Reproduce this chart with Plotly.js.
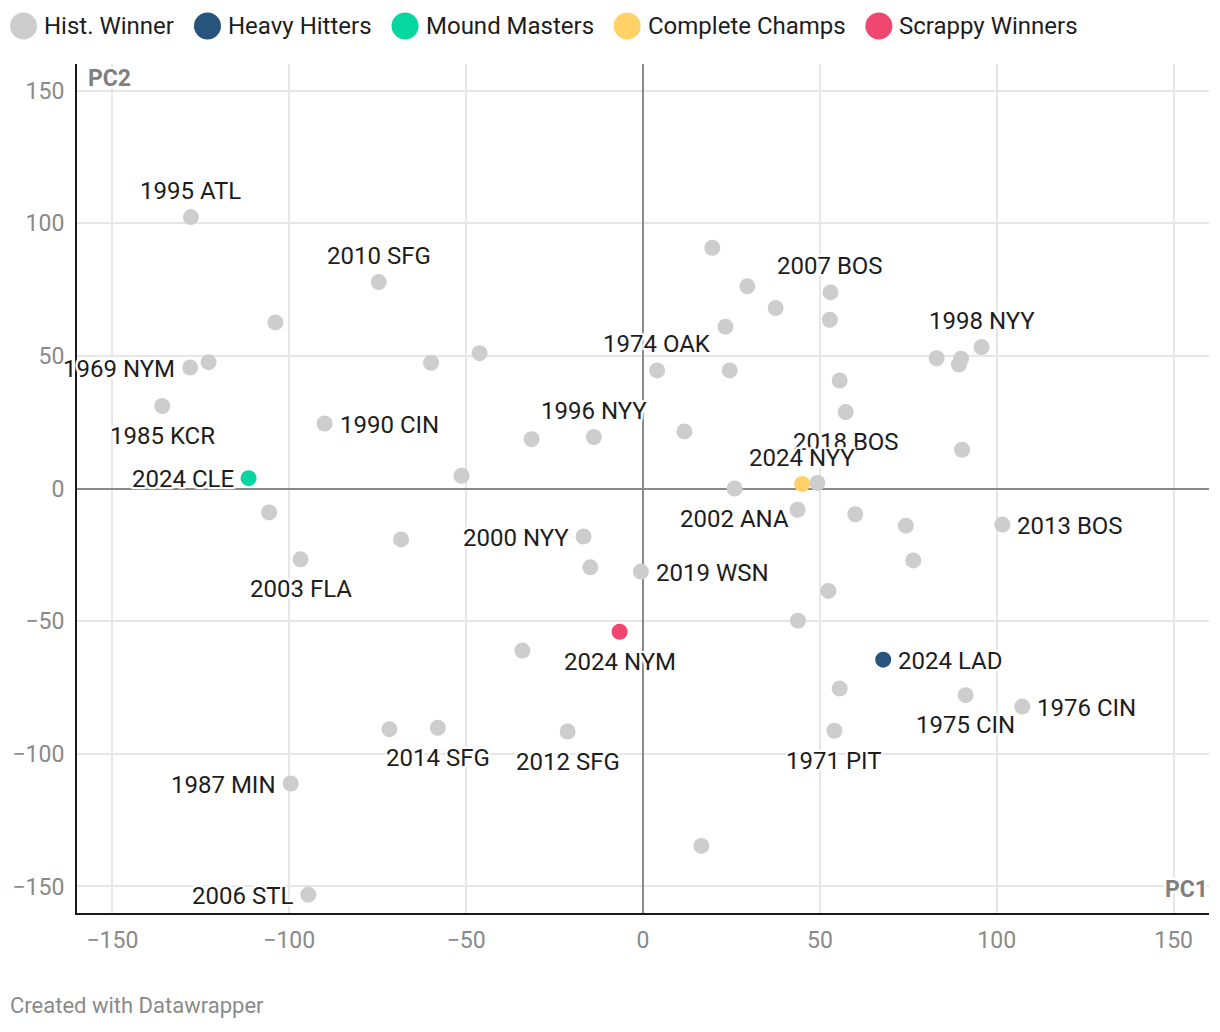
<!DOCTYPE html>
<html><head><meta charset="utf-8">
<script src="https://cdn.plot.ly/plotly-3.0.1.min.js"></script>
<style>html,body{margin:0;padding:0;background:#fff;} #chart{width:1220px;height:1032px;}</style>
</head><body><div id="chart"></div>
<script>
// ---------- DATA ----------
const histTeams = ["1995 ATL","2010 SFG","","1969 NYM","","1985 KCR","1990 CIN","","","",
  "2003 FLA","","","","1996 NYY","","1974 OAK","","","",
  "","","2007 BOS","","","2018 BOS","1998 NYY","","","",
  "","","2002 ANA","","","","","2013 BOS","","",
  "","1975 CIN","1976 CIN","1971 PIT","","2019 WSN","2000 NYY","","","2014 SFG",
  "","2012 SFG","1987 MIN","2006 STL"];
const histPC1 = [-127.8,-74.7,-103.9,-128.0,-122.8,-135.9,-90.0,-59.9,-46.2,-105.7,
  -96.8,-68.4,-51.3,-31.5,-13.9,11.7,4.0,19.6,29.5,37.5,
  23.3,24.5,53.0,52.8,55.6,57.3,95.7,83.0,89.9,89.3,
  90.2,49.3,25.9,43.7,60.0,74.3,76.4,101.6,52.4,43.8,
  55.6,91.2,107.2,54.1,16.5,-0.6,-16.8,-14.9,-34.1,-58.0,
  -71.7,-21.3,-99.6,-94.6];
const histPC2 = [102.3,77.8,62.6,45.6,47.6,31.1,24.5,47.4,51.0,-9.0,
  -26.7,-19.2,4.8,18.6,19.4,21.5,44.5,90.7,76.2,68.0,
  61.0,44.5,73.9,63.6,40.7,28.8,53.3,49.1,48.9,46.7,
  14.6,2.1,0.0,-8.0,-9.7,-14.0,-27.1,-13.6,-38.6,-49.8,
  -75.4,-77.9,-82.2,-91.3,-134.7,-31.3,-18.1,-29.7,-61.1,-90.2,
  -90.7,-91.6,-111.2,-153.1];

const teams2024 = ["2024 LAD","2024 CLE","2024 NYY","2024 NYM"];
const groups2024 = ["Heavy Hitters","Mound Masters","Complete Champs","Scrappy Winners"];
const pc1_2024 = [67.9,-111.5,45.0,-6.6];
const pc2_2024 = [-64.5,3.9,1.7,-54.0];

const legendGroups = ["Hist. Winner","Heavy Hitters","Mound Masters","Complete Champs","Scrappy Winners"];
const tickVals = [-150,-100,-50,0,50,100,150];

// ---------- STYLE ----------
const groupColors = {
  "Hist. Winner":"#cdcdcd","Heavy Hitters":"#26547c","Mound Masters":"#06d6a0",
  "Complete Champs":"#ffd166","Scrappy Winners":"#ef476f"
};
const labelSide = {
  "1995 ATL":"top","2010 SFG":"top","1969 NYM":"left","1985 KCR":"bottom","1990 CIN":"right",
  "2003 FLA":"bottom","1996 NYY":"top","1974 OAK":"top","2007 BOS":"top","2018 BOS":"bottom",
  "1998 NYY":"top","2002 ANA":"bottom","2013 BOS":"right","1975 CIN":"bottom","1976 CIN":"right",
  "1971 PIT":"bottom","2019 WSN":"right","2000 NYY":"left","2014 SFG":"bottom","2012 SFG":"bottom",
  "1987 MIN":"left","2006 STL":"left",
  "2024 LAD":"right","2024 CLE":"left","2024 NYY":"top","2024 NYM":"bottom"
};
const FONT = "Roboto, 'Noto Sans', sans-serif";
const halo = "-2px -2px 1px #fff, 2px -2px 1px #fff, -2px 2px 1px #fff, 2px 2px 1px #fff, 0 -2px 1px #fff, 0 2px 1px #fff, -2px 0 1px #fff, 2px 0 1px #fff";
const W = 1220, H = 1032;
const M = {l:77, r:11, t:64, b:119};
const PW = W - M.l - M.r, PH = H - M.t - M.b;
const px2paperX = p => (p - M.l) / PW;
const px2paperY = p => (H - M.b - p) / PH;

// ---------- TRACES ----------
const traces = [{
  type:"scatter", mode:"markers", x:histPC1, y:histPC2, text:histTeams,
  name:"Hist. Winner", hoverinfo:"text",
  marker:{size:16, color:groupColors["Hist. Winner"], line:{width:0}}
}];
groups2024.forEach((g,i)=>{
  traces.push({
    type:"scatter", mode:"markers", x:[pc1_2024[i]], y:[pc2_2024[i]], text:[teams2024[i]],
    name:g, hoverinfo:"text",
    marker:{size:16, color:groupColors[g], line:{width:0}}
  });
});

// ---------- LABELS ----------
const annotations = [];
function addLabel(name, x, y){
  const side = labelSide[name];
  if(!side) return;
  const a = {xref:"x", yref:"y", x:x, y:y, text:name, showarrow:false, borderpad:0,
    font:{family:FONT, size:24, color:"#1d1d1d", shadow:halo},
    xanchor:"center", yanchor:"middle", xshift:0, yshift:0};
  if(side==="top"){ a.yshift = 26; }
  if(side==="bottom"){ a.yshift = -30; }
  if(side==="left"){ a.xanchor = "right"; a.xshift = -14; a.yshift = -1; }
  if(side==="right"){ a.xanchor = "left"; a.xshift = 14; a.yshift = -1; }
  annotations.push(a);
}
histTeams.forEach((n,i)=>{ if(n) addLabel(n, histPC1[i], histPC2[i]); });
// 2024 labels drawn last (on top)
["2024 CLE","2024 LAD","2024 NYM","2024 NYY"].forEach(n=>{
  const i = teams2024.indexOf(n);
  addLabel(n, pc1_2024[i], pc2_2024[i]);
});

// axis titles & footer
annotations.push({xref:"paper", yref:"paper", x:px2paperX(87), y:px2paperY(78), xanchor:"left", yanchor:"middle",
  text:"<b>PC2</b>", showarrow:false, borderpad:0, font:{family:FONT, size:23, color:"#808080", shadow:halo}});
annotations.push({xref:"paper", yref:"paper", x:px2paperX(1209), y:px2paperY(889), xanchor:"right", yanchor:"middle",
  text:"<b>PC1</b>", showarrow:false, borderpad:0, font:{family:FONT, size:23, color:"#808080", shadow:halo}});
annotations.push({xref:"paper", yref:"paper", x:px2paperX(9), y:px2paperY(1006), xanchor:"left", yanchor:"middle",
  text:"Created with Datawrapper", showarrow:false, borderpad:0, font:{family:FONT, size:22, color:"#8a8a8a"}});

// ---------- MANUAL LEGEND ----------
const shapes = [];
const ctx = document.createElement("canvas").getContext("2d");
ctx.font = "24px Roboto";
let cx = 10; // left edge of first circle
const DIAM = 27, GAP_TEXT = 6, GAP_ITEM = 21, LY = 26;
legendGroups.forEach(g=>{
  shapes.push({type:"circle", xref:"paper", yref:"paper", xsizemode:"pixel", ysizemode:"pixel",
    xanchor:px2paperX(cx + DIAM/2), yanchor:px2paperY(LY),
    x0:-DIAM/2, x1:DIAM/2, y0:-DIAM/2, y1:DIAM/2,
    fillcolor:groupColors[g], line:{width:0}, layer:"above"});
  const tx = cx + DIAM + GAP_TEXT;
  annotations.push({xref:"paper", yref:"paper", x:px2paperX(tx), y:px2paperY(LY), xanchor:"left", yanchor:"middle",
    text:g, showarrow:false, borderpad:0, font:{family:FONT, size:24, color:"#1d1d1d"}});
  cx = tx + ctx.measureText(g).width + GAP_ITEM;
});

// ---------- LAYOUT ----------
const axisCommon = {
  tickvals:tickVals, ticks:"", showgrid:true, gridcolor:"#e6e6e6", gridwidth:2,
  zeroline:true, zerolinecolor:"#8a8a8a", zerolinewidth:2,
  showline:true, linecolor:"#1a1a1a", linewidth:2, mirror:false,
  tickfont:{family:FONT, size:23, color:"#8a8a8a"}, fixedrange:true
};
const layout = {
  width:W, height:H, margin:M, paper_bgcolor:"#fff", plot_bgcolor:"#fff",
  showlegend:false, hovermode:"closest",
  xaxis:Object.assign({}, axisCommon, {range:[-160,160], side:"bottom", ticklabelstandoff:5}),
  yaxis:Object.assign({}, axisCommon, {range:[-160,160], side:"left", ticklabelstandoff:6}),
  annotations:annotations, shapes:shapes
};
Plotly.newPlot("chart", traces, layout, {displayModeBar:false, staticPlot:false});
</script>
</body></html>
